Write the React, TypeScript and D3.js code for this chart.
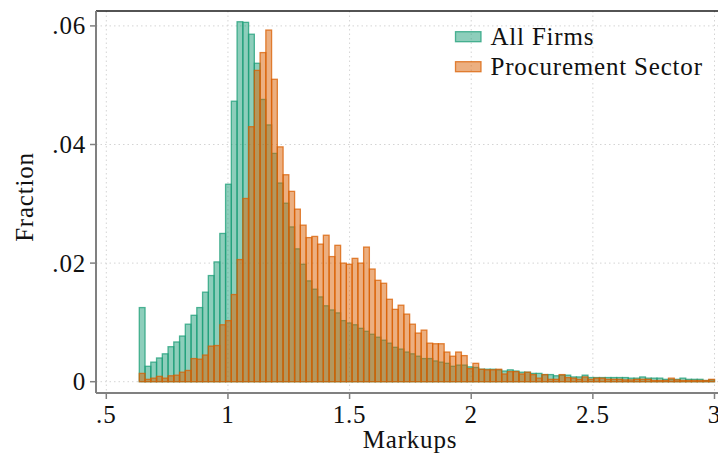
import React from "react";
import * as d3 from "d3";

const binStart = 0.6356;
const binWidth = 0.023644;

const allFirms = [
  0.0125, 0.0026, 0.0033, 0.004, 0.0047, 0.0059, 0.0067, 0.0077, 0.0097, 0.0112,
  0.0125, 0.0151, 0.0179, 0.0202, 0.025, 0.0333, 0.0473, 0.0607, 0.0606, 0.0586,
  0.0537, 0.0476, 0.0433, 0.0385, 0.0335, 0.0301, 0.0261, 0.0224, 0.0198, 0.017,
  0.0156, 0.0143, 0.0128, 0.0121, 0.0116, 0.0103, 0.0099, 0.0096, 0.009, 0.0085,
  0.008, 0.0075, 0.007, 0.0065, 0.0058, 0.0055, 0.005, 0.0047, 0.0043, 0.0039,
  0.0039, 0.0035, 0.0033, 0.0031, 0.0026, 0.0028, 0.0028, 0.0025, 0.0024, 0.0021,
  0.0021, 0.0021, 0.002, 0.0018, 0.002, 0.0018, 0.0016, 0.0016, 0.0014, 0.0014,
  0.0012, 0.0012, 0.001, 0.0011, 0.0011, 0.0008, 0.0008, 0.0011, 0.0007, 0.0007,
  0.0007, 0.0007, 0.0007, 0.0007, 0.0007, 0.0006, 0.0006, 0.0008, 0.0006, 0.0006,
  0.0006, 0.0004, 0.0004, 0.0004, 0.0006, 0.0004, 0.0004, 0.0004, 0.0002, 0.0003,
];

const procurement = [
  0.0014, 0.0004, 0.0006, 0.0009, 0.0006, 0.001, 0.0011, 0.0016, 0.0019, 0.0039,
  0.0038, 0.0045, 0.006, 0.0061, 0.0096, 0.0103, 0.0147, 0.0206, 0.0309, 0.043,
  0.0525, 0.0555, 0.0593, 0.051, 0.0396, 0.0349, 0.0321, 0.0291, 0.0264, 0.0243,
  0.0245, 0.0232, 0.0247, 0.0211, 0.023, 0.02, 0.0198, 0.0208, 0.02, 0.0227,
  0.019, 0.0171, 0.0166, 0.0139, 0.0122, 0.0129, 0.0114, 0.0097, 0.0082, 0.0087,
  0.0065, 0.0064, 0.0064, 0.005, 0.0043, 0.005, 0.0044, 0.0022, 0.0031, 0.0021,
  0.002, 0.002, 0.0021, 0.0013, 0.0017, 0.0017, 0.0013, 0.0016, 0.0012, 0.0006,
  0.0012, 0.0004, 0.0004, 0.0012, 0.0007, 0.0006, 0.0004, 0.0008, 0.0004, 0.0006,
  0.0006, 0.0004, 0.0004, 0.0004, 0.0003, 0.0003, 0.0004, 0.0004, 0.0004, 0.0002,
  0.0002, 0.0002, 0.0006, 0.0003, 0.0002, 0.0002, 0.0002, 0.0002, 0.0002, 0.0004,
];

const xTicks = [0.5, 1, 1.5, 2, 2.5, 3];
const xTickLabels = [".5", "1", "1.5", "2", "2.5", "3"];
const yTicks = [0, 0.02, 0.04, 0.06];
const yTickLabels = ["0", ".02", ".04", ".06"];
const seriesNames = ["All Firms", "Procurement Sector"];
const seriesColors = ["#1b9e77", "#d95f02"];

const W = 718;
const H = 457;
const FONT = "'Liberation Serif', 'DejaVu Serif', serif";
const FS = 25;
const LS = 0.8;

export default function App() {
  const x = d3.scaleLinear().domain([0.5, 3]).range([106.3, 714.5]);
  const y = d3.scaleLinear().domain([0, 0.06]).range([381.7, 25.9]);
  const frameL = 96, frameT = 11, frameB = 393, frameR = 720;

  const bars = (vals: number[], color: string, key: string) =>
    vals.map((v, i) => {
      const x0 = x(binStart + i * binWidth);
      const x1 = x(binStart + (i + 1) * binWidth);
      return (
        <rect
          key={key + i}
          x={x0}
          y={y(v)}
          width={x1 - x0}
          height={y(0) - y(v)}
          fill={color}
          fillOpacity={0.5}
          stroke={color}
          strokeOpacity={0.75}
          strokeWidth={1.3}
        />
      );
    });

  return (
    <svg
      width={W}
      height={H}
      style={{ position: "absolute", left: 0, top: 0, background: "#fff" }}
      fontFamily={FONT}
    >
      <rect x={0} y={0} width={W} height={H} fill="#fff" />
      {yTicks.map((t) => (
        <line key={"gy" + t} x1={frameL} x2={frameR} y1={y(t)} y2={y(t)}
          stroke="#d4d4d4" strokeWidth={1} strokeDasharray="1.5,3" />
      ))}
      {xTicks.map((t) => (
        <line key={"gx" + t} x1={x(t)} x2={x(t)} y1={frameT} y2={frameB}
          stroke="#d4d4d4" strokeWidth={1} strokeDasharray="1.5,3" />
      ))}
      {bars(allFirms, seriesColors[0], "a")}
      {bars(procurement, seriesColors[1], "p")}
      <line x1={frameL} x2={frameR} y1={frameT} y2={frameT} stroke="#1a1a1a" strokeWidth={1.5} />
      <line x1={frameL} x2={frameL} y1={frameT} y2={frameB} stroke="#808080" strokeWidth={2} />
      <line x1={frameL} x2={frameR} y1={frameB} y2={frameB} stroke="#808080" strokeWidth={2} />
      {yTicks.map((t, i) => (
        <g key={"yt" + t}>
          <line x1={frameL - 6} x2={frameL} y1={y(t)} y2={y(t)} stroke="#808080" strokeWidth={1.5} />
          <text x={frameL - 10} y={y(t)} dy="0.34em" textAnchor="end" fontSize={FS} letterSpacing={LS} fill="#111">
            {yTickLabels[i]}
          </text>
        </g>
      ))}
      {xTicks.map((t, i) => (
        <g key={"xt" + t}>
          <line x1={x(t)} x2={x(t)} y1={frameB} y2={frameB + 6} stroke="#808080" strokeWidth={1.5} />
          <text x={x(t)} y={frameB + 30} textAnchor="middle" fontSize={FS} letterSpacing={LS} fill="#111">
            {xTickLabels[i]}
          </text>
        </g>
      ))}
      <text x={410} y={448} textAnchor="middle" fontSize={FS} letterSpacing={LS} fill="#111">Markups</text>
      <text transform={`translate(33,${197}) rotate(-90)`} textAnchor="middle" fontSize={FS} letterSpacing={LS} fill="#111">
        Fraction
      </text>
      {seriesNames.map((n, i) => (
        <g key={"lg" + i}>
          <rect x={455.5} y={31.7 + i * 30} width={25.5} height={10} fill={seriesColors[i]}
            fillOpacity={0.5} stroke={seriesColors[i]} strokeOpacity={0.75} strokeWidth={1.3} />
          <text x={490.5} y={45 + i * 30} fontSize={FS} letterSpacing={LS} fill="#111">{n}</text>
        </g>
      ))}
    </svg>
  );
}
